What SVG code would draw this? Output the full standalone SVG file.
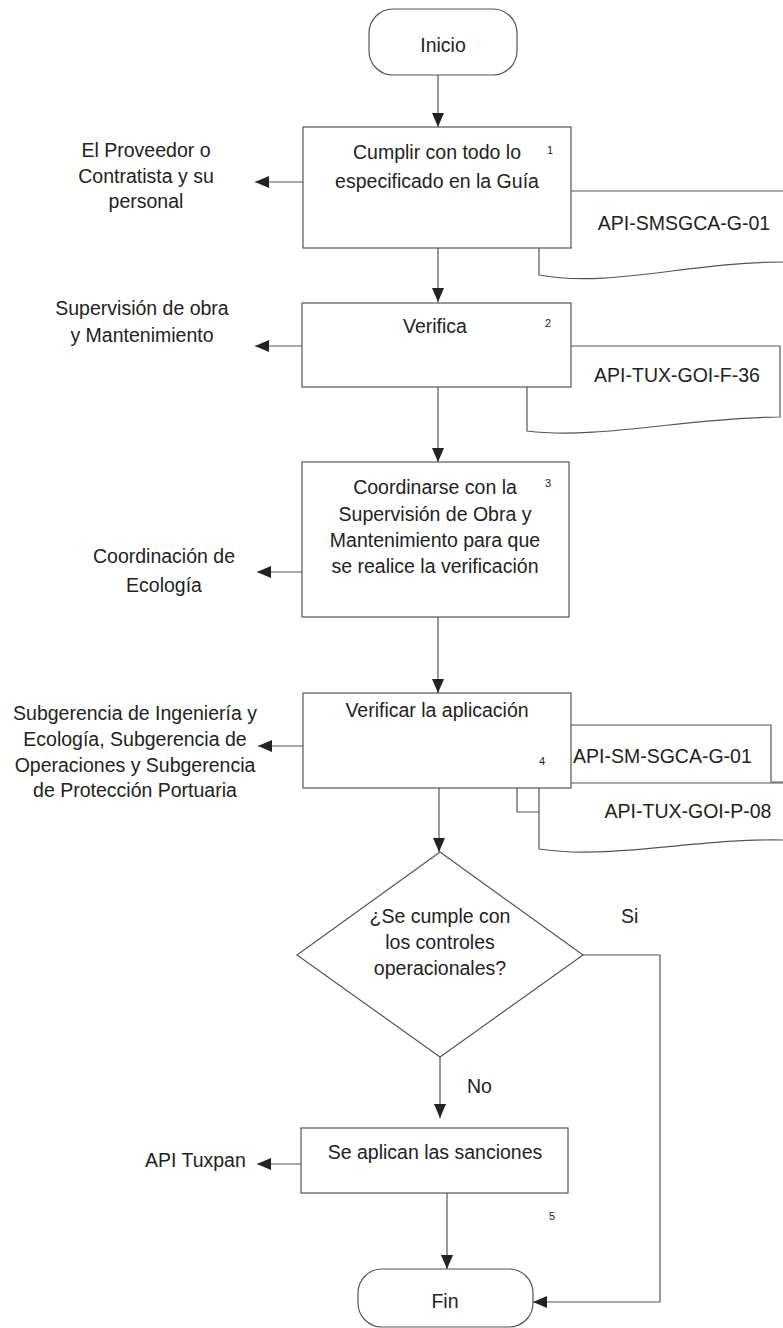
<svg xmlns="http://www.w3.org/2000/svg" width="783" height="1328" viewBox="0 0 783 1328">
<style>
.t{font-family:"Liberation Sans",Arial,sans-serif;font-size:19.5px;fill:#222}
.c{text-anchor:middle}
.n{font-family:"Liberation Sans",Arial,sans-serif;font-size:11px;fill:#222}
.box{fill:#fff;stroke:#555;stroke-width:1.2}
.doc{fill:#fff;stroke:#555;stroke-width:1.2}
.ln{fill:none;stroke:#555;stroke-width:1.2}
</style>
<defs>
<marker id="ah" viewBox="0 0 14 12" refX="14" refY="6" markerWidth="14" markerHeight="12" orient="auto" markerUnits="userSpaceOnUse"><path d="M0,0 L14,6 L0,12 Z" fill="#222"/></marker>
</defs>
<rect width="783" height="1328" fill="#fff"/>

<g id="connectors">
<path class="ln" d="M438,75 V127" marker-end="url(#ah)"/>
<path class="ln" d="M438,248 V302" marker-end="url(#ah)"/>
<path class="ln" d="M438,387 V462" marker-end="url(#ah)"/>
<path class="ln" d="M438,617 V693" marker-end="url(#ah)"/>
<path class="ln" d="M439,788 V852" marker-end="url(#ah)"/>
<path class="ln" d="M440,1057 V1118" marker-end="url(#ah)"/>
<path class="ln" d="M447,1193 V1269" marker-end="url(#ah)"/>
<path class="ln" d="M583,955 H660 V1302 H533" marker-end="url(#ah)"/>
<path class="ln" d="M303,182 H255" marker-end="url(#ah)"/>
<path class="ln" d="M302,346 H255" marker-end="url(#ah)"/>
<path class="ln" d="M302,572 H257" marker-end="url(#ah)"/>
<path class="ln" d="M303,746 H258" marker-end="url(#ah)"/>
<path class="ln" d="M301,1164 H257" marker-end="url(#ah)"/>
<text class="t" x="621" y="923">Si</text>
<text class="t" x="467" y="1093">No</text>
</g>

<g id="inicio">
<rect class="box" x="369" y="9" width="148" height="66" rx="24"/>
<text class="t c" x="443" y="52">Inicio</text>
</g>

<g id="doc1">
<path class="doc" d="M539,191 H800 V262 H783 C690,262 610,288 539,275 Z"/>
<text class="t c" x="684" y="230">API-SMSGCA-G-01</text>
</g>
<g id="step1">
<rect class="box" x="303" y="127" width="268" height="121"/>
<text class="t c" x="437" y="159">Cumplir con todo lo</text>
<text class="t c" x="437" y="188">especificado en la Guía</text>
<text class="n" x="547" y="154">1</text>
</g>
<g id="actor1">
<text class="t c" x="146" y="157">El Proveedor o</text>
<text class="t c" x="146" y="183">Contratista y su</text>
<text class="t c" x="146" y="208">personal</text>
</g>

<g id="doc2">
<path class="doc" d="M527,346 H780 V417 C690,417 600,440 527,431 Z"/>
<text class="t c" x="677" y="382">API-TUX-GOI-F-36</text>
</g>
<g id="step2">
<rect class="box" x="302" y="303" width="269" height="84"/>
<text class="t c" x="435" y="333">Verifica</text>
<text class="n" x="545" y="327">2</text>
</g>
<g id="actor2">
<text class="t c" x="142" y="315">Supervisión de obra</text>
<text class="t c" x="142" y="342">y Mantenimiento</text>
</g>

<g id="step3">
<rect class="box" x="302" y="462" width="267" height="155"/>
<text class="t c" x="435" y="494">Coordinarse con la</text>
<text class="t c" x="435" y="521">Supervisión de Obra y</text>
<text class="t c" x="435" y="547">Mantenimiento para que</text>
<text class="t c" x="435" y="573">se realice la verificación</text>
<text class="n" x="545" y="487">3</text>
</g>
<g id="actor3">
<text class="t c" x="164" y="563">Coordinación de</text>
<text class="t c" x="164" y="592">Ecología</text>
</g>

<g id="doc4a">
<path class="doc" d="M517,725 H771 V782 H783 V812 H517 Z"/>
<text class="t" x="573" y="763">API-SM-SGCA-G-01</text>
</g>
<g id="doc4b">
<path class="doc" d="M539,783 H800 V840 H783 C700,838 610,860 539,849 Z"/>
<text class="t c" x="688" y="818">API-TUX-GOI-P-08</text>
</g>
<g id="step4">
<rect class="box" x="303" y="693" width="268" height="95"/>
<text class="t c" x="437" y="717">Verificar la aplicación</text>
<text class="n" x="539" y="765">4</text>
</g>
<g id="actor4">
<text class="t c" x="135" y="720">Subgerencia de Ingeniería y</text>
<text class="t c" x="135" y="746">Ecología, Subgerencia de</text>
<text class="t c" x="135" y="772">Operaciones y Subgerencia</text>
<text class="t c" x="135" y="797">de Protección Portuaria</text>
</g>

<g id="decision">
<path class="box" d="M440,852 L583,955 L440,1057 L297,955 Z"/>
<text class="t c" x="440" y="923">¿Se cumple con</text>
<text class="t c" x="440" y="949">los controles</text>
<text class="t c" x="440" y="975">operacionales?</text>
</g>

<g id="step5">
<rect class="box" x="301" y="1128" width="267" height="65"/>
<text class="t c" x="435" y="1159">Se aplican las sanciones</text>
<text class="n" x="549" y="1220">5</text>
</g>
<g id="actor5">
<text class="t" x="145" y="1167">API Tuxpan</text>
</g>

<g id="fin">
<rect class="box" x="358" y="1269" width="175" height="58" rx="24"/>
<text class="t c" x="445" y="1308">Fin</text>
</g>
</svg>
